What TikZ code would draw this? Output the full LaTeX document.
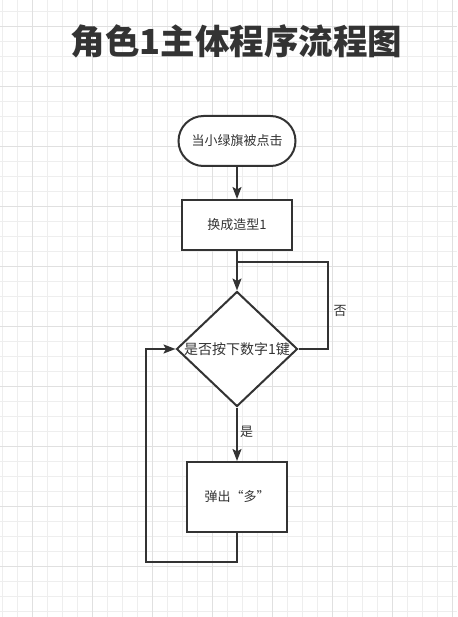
\documentclass[tikz,border=0pt]{standalone}
\usepackage{fontspec}
\setmainfont{Noto Sans CJK SC}
\usetikzlibrary{shapes.geometric,arrows.meta}
\definecolor{ink}{HTML}{333333}
\definecolor{gridminor}{HTML}{EEEEEE}
\definecolor{gridmajor}{HTML}{E0E0E0}

\begin{document}
\begin{tikzpicture}[x=1pt,y=-1pt,color=ink,line width=2pt,
	flow/.style={-{Stealth[length=12pt,width=9pt,inset=2.5pt]}},
	txt/.style={font=\fontsize{13}{13}\selectfont},
	terminal/.style={txt,draw,fill=white,rounded corners=25pt,minimum width=117pt,minimum height=50pt},
	process/.style={txt,draw,fill=white,minimum width=110pt,minimum height=50pt},
	decision/.style={draw,fill=white,diamond,inner sep=0pt,minimum width=121pt,minimum height=115pt,
		font=\fontsize{14}{14}\selectfont},
	lbl/.style={txt,inner sep=1pt}]

\useasboundingbox (0,0) rectangle (457,617);
\fill[white] (0,0) rectangle (457,617);

%grid
\foreach \x in {2.7,17.7,...,452.7}{
	\draw[gridminor,line width=0.7pt] (\x,0) -- (\x,617);
}
\foreach \y in {11,26,...,611}{
	\draw[gridminor,line width=0.7pt] (0,\y) -- (457,\y);
}
\foreach \x in {32.7,92.7,...,452.7}{
	\draw[gridmajor,line width=0.7pt] (\x,0) -- (\x,617);
}
\foreach \y in {26,86,...,566}{
	\draw[gridmajor,line width=0.7pt] (0,\y) -- (457,\y);
}

% title
\node[font=\bfseries\fontsize{34.5}{34.5}\selectfont] (title) at (236.5,41) {角色1主体程序流程图};

% steps
\node[terminal] (start) at (237,141) {当小绿旗被点击};
\node[process] (init) at (237,225) {换成造型1};
\node[decision] (check) at (237,349) {\makebox[0pt]{是否按下数字1键}};
\node[process,minimum width=100pt,minimum height=70pt] (popup) at (237,497) {弹出“多”};

% arrows
\coordinate (merge) at (237,261.7);
\coordinate (noTurn) at (328.3,261.7);
\coordinate (back) at (146,561.7);

\draw[flow] (start) -- (init);
\draw[flow] (init) -- (check);
\draw (check.east) -| (noTurn) -- (merge);
\node[lbl] (noLbl) at (340,311) {否};
\draw[flow] (check) -- (popup);
\node[lbl] (yesLbl) at (246.7,431.7) {是};
\draw[flow] (popup.south) |- (back) |- (check.west);

\end{tikzpicture}
\end{document}
